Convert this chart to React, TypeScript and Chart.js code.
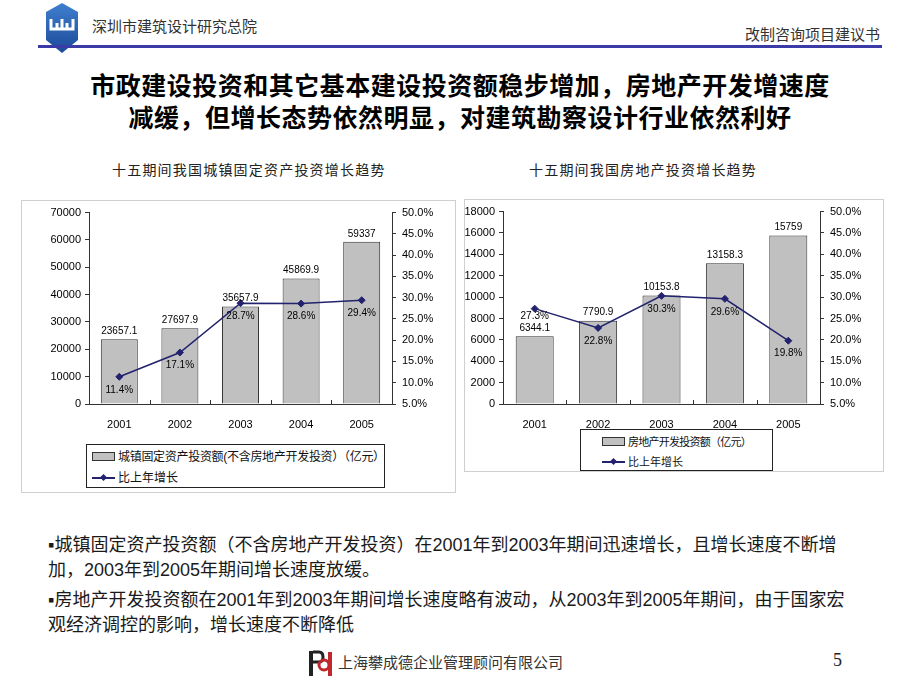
import React, { useEffect, useRef } from "react";
import { Chart, registerables } from "chart.js";

Chart.register(...registerables);

// ---------- data ----------
const years = ["2001", "2002", "2003", "2004", "2005"];
const fixedInvestment = [23657.1, 27697.9, 35657.9, 45869.9, 59337];
const fixedGrowth = [11.4, 17.1, 28.7, 28.6, 29.4];
const estateInvestment = [6344.1, 7790.9, 10153.8, 13158.3, 15759];
const estateGrowth = [27.3, 22.8, 30.3, 29.6, 19.8];
const fixedAxisMax = 70000;
const fixedAxisStep = 10000;
const estateAxisMax = 18000;
const estateAxisStep = 2000;
const growthAxisMin = 5;
const growthAxisMax = 50;
const growthAxisStep = 5;

const fixedBarLabel = "城镇固定资产投资额(不含房地产开发投资）（亿元）";
const estateBarLabel = "房地产开发投资额（亿元）";
const growthLabel = "比上年增长";

const LATIN = '"Liberation Sans", Arial, sans-serif';
const CJK = '"Liberation Sans", "Noto Sans CJK SC", sans-serif';
const NAVY = "#22226e";
const BAR_FILL = "#c0c0c0";

type ComboProps = {
  left: number;
  top: number;
  width: number;
  height: number;
  bars: number[];
  growth: number[];
  barLabel: string;
  yMax: number;
  yStep: number;
  leftW: number;
  rightW: number;
  padTop: number;
  xH: number;
  barPct: number;
};

function ComboChart(p: ComboProps) {
  const ref = useRef<HTMLCanvasElement | null>(null);
  useEffect(() => {
    if (!ref.current) return;
    const innerTicks = {
      id: "innerTicks",
      beforeDatasetsDraw(chart: any) {
        const a = chart.chartArea;
        const n = chart.data.labels.length;
        const ctx = chart.ctx;
        ctx.save();
        ctx.strokeStyle = "#333";
        ctx.lineWidth = 1;
        for (let i = 1; i < n; i++) {
          const px = Math.round(a.left + ((a.right - a.left) * i) / n) + 0.5;
          ctx.beginPath();
          ctx.moveTo(px, a.bottom);
          ctx.lineTo(px, a.bottom - 4);
          ctx.stroke();
        }
        ctx.restore();
      },
    };
    const valueLabels = {
      id: "valueLabels",
      afterDatasetsDraw(chart: any) {
        const ctx = chart.ctx;
        ctx.save();
        ctx.font = "10px " + LATIN;
        ctx.fillStyle = "#000";
        ctx.textAlign = "center";
        ctx.textBaseline = "middle";
        const barMeta = chart.getDatasetMeta(0);
        const barLabelY: number[] = [];
        barMeta.data.forEach((el: any, i: number) => {
          const y = el.y - 8;
          barLabelY.push(y);
          ctx.fillText(String(p.bars[i]), el.x, y);
        });
        const lineMeta = chart.getDatasetMeta(1);
        lineMeta.data.forEach((el: any, i: number) => {
          let y = el.y + 13;
          if (Math.abs(y - barLabelY[i]) < 12) y = barLabelY[i] - 12;
          ctx.fillText(p.growth[i].toFixed(1) + "%", el.x, y);
        });
        ctx.restore();
      },
    };
    const tickFont = { family: LATIN, size: 11 };
    const chart = new Chart(ref.current, {
      type: "bar",
      data: {
        labels: years,
        datasets: [
          {
            type: "bar",
            label: p.barLabel,
            data: p.bars,
            backgroundColor: BAR_FILL,
            borderColor: "#333",
            borderWidth: 1,
            barPercentage: p.barPct,
            categoryPercentage: 1,
            yAxisID: "y",
            order: 2,
          } as any,
          {
            type: "line",
            label: growthLabel,
            data: p.growth,
            borderColor: NAVY,
            borderWidth: 1.5,
            pointStyle: "rectRot",
            pointRadius: 3.5,
            pointBorderWidth: 1,
            pointBackgroundColor: NAVY,
            pointBorderColor: NAVY,
            tension: 0,
            yAxisID: "y1",
            order: 1,
          } as any,
        ],
      },
      options: {
        animation: false,
        responsive: false,
        maintainAspectRatio: false,
        layout: { padding: { top: p.padTop, left: 0, right: 0, bottom: 0 } },
        plugins: { legend: { display: false }, tooltip: { enabled: false } },
        scales: {
          x: {
            grid: { display: false },
            border: { display: true, color: "#333", width: 1 },
            ticks: { padding: 6, font: tickFont, color: "#000" },
            afterFit: (s: any) => {
              s.height = p.xH;
            },
          },
          y: {
            position: "left",
            min: 0,
            max: p.yMax,
            ticks: {
              stepSize: p.yStep,
              padding: 4,
              font: tickFont,
              color: "#000",
              callback: (v: any) => String(v),
            },
            grid: { drawOnChartArea: false, tickLength: 4, color: "#333" },
            border: { color: "#333" },
            afterFit: (s: any) => {
              s.width = p.leftW;
            },
          },
          y1: {
            position: "right",
            min: growthAxisMin,
            max: growthAxisMax,
            ticks: {
              stepSize: growthAxisStep,
              padding: 6,
              font: tickFont,
              color: "#000",
              callback: (v: any) => Number(v).toFixed(1) + "%",
            },
            grid: { drawOnChartArea: false, tickLength: 4, color: "#333" },
            border: { color: "#333" },
            afterFit: (s: any) => {
              s.width = p.rightW;
            },
          },
        },
      } as any,
      plugins: [innerTicks, valueLabels],
    });
    return () => chart.destroy();
  }, []);
  return (
    <canvas
      ref={ref}
      width={p.width}
      height={p.height}
      style={{ position: "absolute", left: p.left, top: p.top, width: p.width, height: p.height }}
    />
  );
}

function Legend(props: {
  left: number;
  top: number;
  width: number;
  height: number;
  barLabel: string;
  itemX: number;
  row1: number;
  row2: number;
  fontSize: number;
  spacing: number;
}) {
  const { left, top, width, height, barLabel, itemX, row1, row2, fontSize, spacing } = props;
  const textX = itemX + 26;
  const textStyle: React.CSSProperties = {
    position: "absolute",
    left: textX,
    fontFamily: CJK,
    fontSize,
    lineHeight: "16px",
    color: "#111",
    whiteSpace: "nowrap",
  };
  return (
    <div
      style={{
        position: "absolute",
        left,
        top,
        width,
        height,
        boxSizing: "border-box",
        border: "1px solid #222",
        background: "#fff",
      }}
    >
      <div
        style={{
          position: "absolute",
          left: itemX,
          top: row1 - 5,
          width: 23,
          height: 9,
          boxSizing: "border-box",
          background: BAR_FILL,
          border: "1px solid #333",
        }}
      />
      <div style={{ ...textStyle, top: row1 - 8, letterSpacing: spacing }}>{barLabel}</div>
      <div
        style={{
          position: "absolute",
          left: itemX,
          top: row2 - 1,
          width: 23,
          height: 1.5,
          background: NAVY,
        }}
      />
      <div
        style={{
          position: "absolute",
          left: itemX + 8.5,
          top: row2 - 3,
          width: 5,
          height: 5,
          background: NAVY,
          transform: "rotate(45deg)",
        }}
      />
      <div style={{ ...textStyle, top: row2 - 8 }}>{growthLabel}</div>
    </div>
  );
}

export default function App() {
  useEffect(() => {
    document.body.style.margin = "0";
  }, []);
  const abs = (l: number, t: number, extra: React.CSSProperties = {}): React.CSSProperties => ({
    position: "absolute",
    left: l,
    top: t,
    whiteSpace: "nowrap",
    ...extra,
  });
  const bulletStyle: React.CSSProperties = {
    fontFamily: CJK,
    fontSize: 18,
    lineHeight: "24px",
    color: "#1a1a1a",
  };
  return (
    <div style={{ position: "relative", width: 920, height: 690, overflow: "hidden", background: "#fff" }}>
      {/* header logo */}
      <svg style={abs(44, 2)} width={36} height={54} viewBox="0 0 36 54">
        <defs>
          <linearGradient id="lg" x1="0" y1="0" x2="0" y2="1">
            <stop offset="0" stopColor="#3f7fce" />
            <stop offset="1" stopColor="#1b4a98" />
          </linearGradient>
        </defs>
        <polygon points="18,1 34,10 34,38 18,51 2,38 2,10" fill="url(#lg)" />
        <path
          d="M7 17 V27 H13 V21 M13 27 H23 M18 17 V27 M23 21 V27 H29 V17"
          stroke="#fff"
          strokeWidth={3}
          fill="none"
        />
      </svg>
      <div style={abs(92, 17, { fontFamily: CJK, fontSize: 15, lineHeight: "20px", color: "#333" })}>
        深圳市建筑设计研究总院
      </div>
      <div style={abs(745, 25, { fontFamily: CJK, fontSize: 15, lineHeight: "20px", color: "#333" })}>
        改制咨询项目建议书
      </div>
      <div style={abs(38, 45, { width: 844, height: 3, background: "#3b3ba8" })} />

      {/* title */}
      <div
        style={{
          position: "absolute",
          left: 0,
          top: 70,
          width: 920,
          textAlign: "center",
          fontFamily: CJK,
          fontWeight: 700,
          fontSize: 25,
          letterSpacing: 0.5,
          lineHeight: "32px",
          color: "#000",
        }}
      >
        <div>市政建设投资和其它基本建设投资额稳步增加，房地产开发增速度</div>
        <div>减缓，但增长态势依然明显，对建筑勘察设计行业依然利好</div>
      </div>

      {/* chart subtitles */}
      <div style={abs(112, 160, { fontFamily: CJK, fontSize: 14, letterSpacing: 1.2, lineHeight: "20px", color: "#222" })}>
        十五期间我国城镇固定资产投资增长趋势
      </div>
      <div style={abs(529, 160, { fontFamily: CJK, fontSize: 14, letterSpacing: 1.2, lineHeight: "20px", color: "#222" })}>
        十五期间我国房地产投资增长趋势
      </div>

      {/* chart frames */}
      <div style={abs(21, 200, { width: 435, height: 293, boxSizing: "border-box", border: "1px solid #cfcfcf" })} />
      <div style={abs(464, 199, { width: 420, height: 273, boxSizing: "border-box", border: "1px solid #cfcfcf" })} />

      <ComboChart
        left={21}
        top={200}
        width={435}
        height={293}
        bars={fixedInvestment}
        growth={fixedGrowth}
        barLabel={fixedBarLabel}
        yMax={fixedAxisMax}
        yStep={fixedAxisStep}
        leftW={68}
        rightW={64}
        padTop={11}
        xH={89}
        barPct={0.61}
      />
      <ComboChart
        left={464}
        top={199}
        width={420}
        height={273}
        bars={estateInvestment}
        growth={estateGrowth}
        barLabel={estateBarLabel}
        yMax={estateAxisMax}
        yStep={estateAxisStep}
        leftW={39}
        rightW={64}
        padTop={11}
        xH={68}
        barPct={0.6}
      />

      <Legend left={86} top={444} width={299} height={44} barLabel={fixedBarLabel} itemX={5} row1={12} row2={33} fontSize={12} spacing={-0.3} />
      <Legend left={580} top={429} width={193} height={42} barLabel={estateBarLabel} itemX={21} row1={12} row2={32} fontSize={11} spacing={-0.75} />

      {/* bullets */}
      <div style={abs(48, 533, bulletStyle)}>
        ▪城镇固定资产投资额（不含房地产开发投资）在2001年到2003年期间迅速增长，且增长速度不断增
      </div>
      <div style={abs(48, 558, bulletStyle)}>加，2003年到2005年期间增长速度放缓。</div>
      <div style={abs(48, 588, bulletStyle)}>
        ▪房地产开发投资额在2001年到2003年期间增长速度略有波动，从2003年到2005年期间，由于国家宏
      </div>
      <div style={abs(48, 613, bulletStyle)}>观经济调控的影响，增长速度不断降低</div>

      {/* footer */}
      <svg style={abs(307, 648)} width={29} height={29} viewBox="0 0 29 29">
        <rect x={2} y={3} width={4} height={25} fill="#222" />
        <path d="M6 4 H12 Q16 4 16 9 Q16 14 12 14 H6" stroke="#222" strokeWidth={3} fill="none" />
        <circle cx={17} cy={17} r={5} stroke="#c0282d" strokeWidth={3} fill="none" />
        <rect x={21} y={4} width={4} height={24} fill="#c0282d" />
      </svg>
      <div style={abs(338, 653, { fontFamily: CJK, fontSize: 15, lineHeight: "20px", color: "#333" })}>
        上海攀成德企业管理顾问有限公司
      </div>
      <div style={abs(833, 649, { fontFamily: '"Liberation Serif", serif', fontSize: 18, lineHeight: "22px", color: "#222" })}>
        5
      </div>
    </div>
  );
}
